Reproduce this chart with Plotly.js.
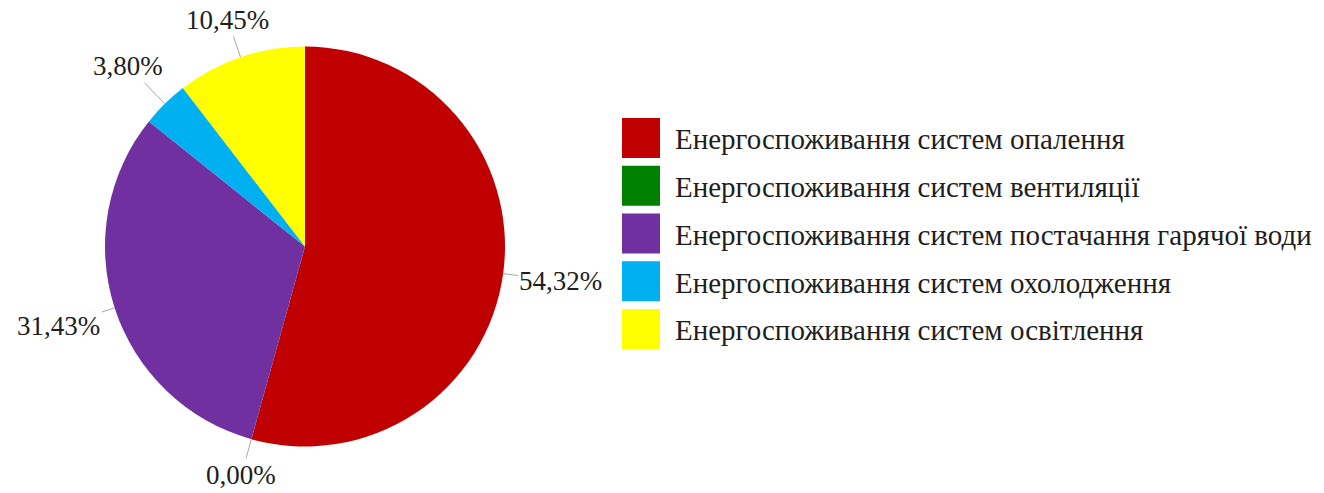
<!DOCTYPE html>
<html>
<head>
<meta charset="utf-8">
<script src="https://cdn.plot.ly/plotly-3.0.1.min.js"></script>
<style>html,body{margin:0;padding:0;background:#fff}#chart{width:1324px;height:493px}</style>
</head>
<body>
<div id="chart"></div>
<script>
// ---- data ----
const categories = [
  'Енергоспоживання систем опалення',
  'Енергоспоживання систем вентиляції',
  'Енергоспоживання систем постачання гарячої води',
  'Енергоспоживання систем охолодження',
  'Енергоспоживання систем освітлення'
];
const shares = [54.32, 0.00, 31.43, 3.80, 10.45];
const sliceColors = ['#C00000', '#008000', '#7030A0', '#00B0F0', '#FFFF00'];

// ---- layout constants ----
const W = 1324, H = 493;
const CX = 305, CY = 246.5, R = 200;
const FONT = 'Liberation Serif, DejaVu Serif, serif';
const TEXT_COLOR = '#1e1e1e';

const fmt = v => v.toFixed(2).replace('.', ',') + '%';

// percentage labels with short leader lines, positioned from slice angles
const total = shares.reduce((a, b) => a + b, 0);
let cum = 0;
const annotations = shares.map(v => {
  const mid = (cum + v / 2) / total * 2 * Math.PI;
  cum += v;
  const s = Math.sin(mid), c = Math.cos(mid);
  const px = CX + R * s, py = CY - R * c;
  const ext = Math.abs(s) * 43 + Math.abs(c) * 12;
  const d = R + 14 + ext;
  const lx = CX + d * s, ly = CY - d * c;
  return {
    xref: 'paper', yref: 'paper',
    x: px / W, y: 1 - py / H,
    ax: lx - px, ay: ly - py,
    text: fmt(v),
    showarrow: true, arrowhead: 0, arrowwidth: 1, arrowcolor: '#a6a6a6',
    standoff: 0, startstandoff: 0,
    font: {family: FONT, size: 27, color: TEXT_COLOR}
  };
});

const data = [{
  type: 'pie',
  labels: categories,
  values: shares,
  sort: false,
  direction: 'clockwise',
  rotation: 0,
  textinfo: 'none',
  hoverinfo: 'none',
  marker: {colors: sliceColors, line: {width: 0}},
  domain: {
    x: [(CX - R) / W, (CX + R) / W],
    y: [1 - (CY + R) / H, 1 - (CY - R) / H]
  }
}];

const layout = {
  width: W, height: H,
  margin: {l: 0, r: 0, t: 0, b: 0},
  paper_bgcolor: '#ffffff',
  separators: ',.',
  font: {family: FONT},
  showlegend: true,
  legend: {
    x: 0.46, y: 1 - 110 / H, xanchor: 'left', yanchor: 'top',
    font: {family: FONT, size: 29, color: TEXT_COLOR},
    bgcolor: 'rgba(0,0,0,0)'
  },
  annotations: annotations
};

Plotly.newPlot('chart', data, layout, {staticPlot: true}).then(gd => {
  // enlarge legend swatches and space entries like the reference
  const FIRST_CY = 138, STEP = 47.75, SQ_LEFT = 622, SQ_W = 38, SQ_H = 40, TEXT_X = 675;
  gd.querySelectorAll('.legend .scrollbox').forEach(s => s.removeAttribute('clip-path'));
  gd.querySelectorAll('.legend .traces').forEach((g, i) => {
    const tr = g.getAttribute('transform') || '';
    const m = tr.match(/translate\(\s*([-\d.e]+)[ ,]+([-\d.e]+)\s*\)/);
    const tx = m ? parseFloat(m[1]) : 0, ty = m ? parseFloat(m[2]) : 0;
    const ctm = g.getScreenCTM();
    const newTy = ty + (FIRST_CY + i * STEP - ctm.f);
    g.setAttribute('transform', 'translate(' + tx + ',' + newTy + ')');
    const ctm2 = g.getScreenCTM();
    const left = SQ_LEFT - ctm2.e;
    const p = g.querySelector('path.legendpie');
    if (p) {
      p.removeAttribute('transform');
      if (p.parentNode) p.parentNode.removeAttribute('transform');
      p.setAttribute('d', 'M' + left + ',' + (-SQ_H / 2) + 'H' + (left + SQ_W) + 'V' + (SQ_H / 2) + 'H' + left + 'Z');
      p.style.strokeWidth = '0px';
    }
    const t = g.querySelector('.legendtext');
    if (t) t.setAttribute('x', TEXT_X - ctm2.e);
  });
});
</script>
</body>
</html>
